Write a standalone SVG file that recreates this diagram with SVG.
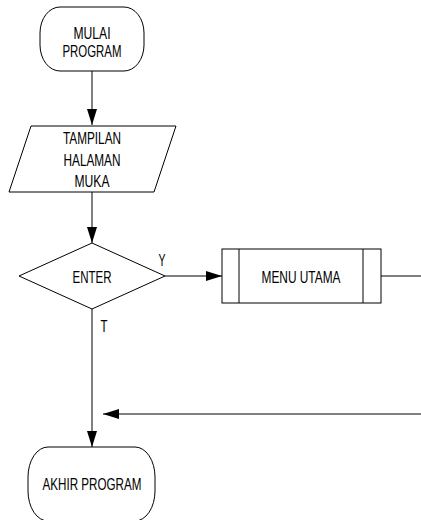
<svg xmlns="http://www.w3.org/2000/svg" width="421" height="520" viewBox="0 0 421 520">
<defs>
<style>
.s{fill:#fff;stroke:#000;stroke-width:1}
.t{font-family:"Liberation Sans Narrow","Arial Narrow","Liberation Sans",sans-serif;font-size:17px;fill:#000;text-anchor:middle;dominant-baseline:central}
.c{fill:none;stroke:#000;stroke-width:1}
</style>
<marker id="ah" markerWidth="16" markerHeight="10" refX="16" refY="5" viewBox="0 0 16 10" orient="auto" markerUnits="userSpaceOnUse">
<path d="M0,0 L16,5 L0,10 Z" fill="#000"/>
</marker>
</defs>
<g id="connectors">
<line class="c" x1="92" y1="71" x2="92" y2="125" marker-end="url(#ah)"/>
<line class="c" x1="92" y1="192" x2="92" y2="243" marker-end="url(#ah)"/>
<line class="c" x1="165" y1="276" x2="222" y2="276" marker-end="url(#ah)"/>
<line class="c" x1="381" y1="276" x2="421" y2="276"/>
<line class="c" x1="92" y1="309" x2="92" y2="447" marker-end="url(#ah)"/>
<line class="c" x1="421" y1="414" x2="103" y2="414" marker-end="url(#ah)"/>
<text class="t" x="162" y="260" textLength="7" lengthAdjust="spacingAndGlyphs">Y</text>
<text class="t" x="104" y="326" textLength="7" lengthAdjust="spacingAndGlyphs">T</text>
</g>
<g id="start">
<rect class="s" x="40" y="7" width="104" height="64" rx="20" ry="26"/>
<text class="t" x="92" y="33" textLength="37" lengthAdjust="spacingAndGlyphs">MULAI</text>
<text class="t" x="92" y="51" textLength="59" lengthAdjust="spacingAndGlyphs">PROGRAM</text>
</g>
<g id="tampilan">
<polygon class="s" points="31,126 176,126 154,192 9,192"/>
<text class="t" x="92" y="138" textLength="58" lengthAdjust="spacingAndGlyphs">TAMPILAN</text>
<text class="t" x="92" y="160" textLength="57" lengthAdjust="spacingAndGlyphs">HALAMAN</text>
<text class="t" x="92" y="181" textLength="35" lengthAdjust="spacingAndGlyphs">MUKA</text>
</g>
<g id="enter">
<polygon class="s" points="92,243 165,276 92,309 19,276"/>
<text class="t" x="92" y="277" textLength="39" lengthAdjust="spacingAndGlyphs">ENTER</text>
</g>
<g id="menu">
<rect class="s" x="222" y="249" width="159" height="54"/>
<line class="c" x1="239" y1="249" x2="239" y2="303"/>
<line class="c" x1="363" y1="249" x2="363" y2="303"/>
<text class="t" x="301" y="277" textLength="79" lengthAdjust="spacingAndGlyphs">MENU UTAMA</text>
</g>
<g id="end">
<rect class="s" x="28" y="447" width="127" height="74" rx="20" ry="30"/>
<text class="t" x="92" y="484" textLength="99" lengthAdjust="spacingAndGlyphs">AKHIR PROGRAM</text>
</g>
</svg>
